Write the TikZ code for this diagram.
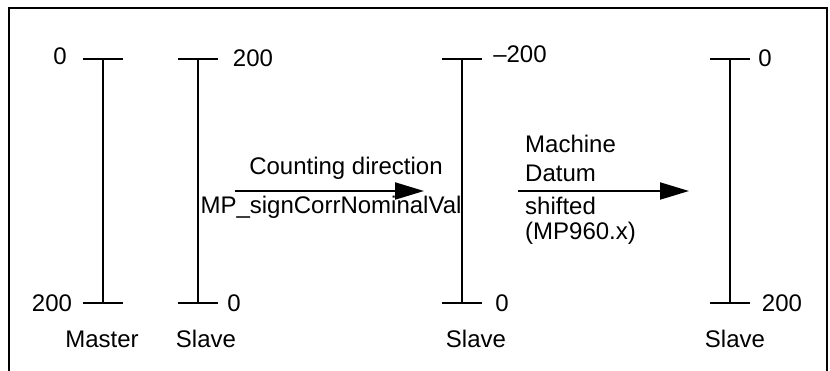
\documentclass[tikz,border=0pt]{standalone}
\usepackage{fontspec}
\setmainfont{Liberation Sans}
\usetikzlibrary{arrows.meta}
\begin{document}
\begin{tikzpicture}[x=1pt,y=-1pt,
  lbl/.style={inner sep=0pt,anchor=base,font=\fontsize{24}{27}\selectfont},
  lbll/.style={lbl,anchor=base west},
  bar/.style={line width=2pt},
  arr/.style={line width=2pt,-{Triangle[length=29pt,width=17pt]}}]
\useasboundingbox (0,0) rectangle (830,371);
\draw[line width=2pt] (9,380) -- (9,8) -- (827,8) -- (827,380);
% bars
\foreach \n/\x in {m/103,sa/198,sb/462,sc/730}{
  \coordinate (\n t) at (\x,59);
  \coordinate (\n b) at (\x,303);
  \coordinate (\n tl) at (\x-20,59);
  \coordinate (\n tr) at (\x+20,59);
  \coordinate (\n bl) at (\x-20,303);
  \coordinate (\n br) at (\x+20,303);
  \draw[bar] (\n t) -- (\n b);
  \draw[bar] (\n tl) -- (\n tr);
  \draw[bar] (\n bl) -- (\n br);
}
% labels
\node[lbl] (m0) at (60,65) {0};
\node[lbl] (m200) at (52,312) {200};
\node[lbl] (mlab) at (102,347) {Master};
\node[lbl] (sa200) at (253,67) {200};
\node[lbl] (sa0) at (234,312) {0};
\node[lbl] (salab) at (206,347) {Slave};
\node[lbl] (sbm200) at (520,63) {–200};
\node[lbl] (sb0) at (502,312) {0};
\node[lbl] (sblab) at (476,347) {Slave};
\node[lbl] (sc0) at (765,67) {0};
\node[lbl] (sc200) at (782,312) {200};
\node[lbl] (sclab) at (735,347) {Slave};
% arrows
\coordinate (a1s) at (235,191);
\coordinate (a1e) at (424,191);
\coordinate (a2s) at (518,191);
\coordinate (a2e) at (689,191);
\draw[arr] (a1s) -- (a1e);
\draw[arr] (a2s) -- (a2e);
\node[lbl] (cd) at (346,175) {Counting direction};
\node[lbl] (mp) at (331,214) {MP\_signCorrNominalVal};
\node[lbll] (t1) at (525,153) {Machine};
\node[lbll] (t2) at (525,182) {Datum};
\node[lbll] (t3) at (525,215) {shifted};
\node[lbll] (t4) at (525,240) {(MP960.x)};
\end{tikzpicture}
\end{document}
